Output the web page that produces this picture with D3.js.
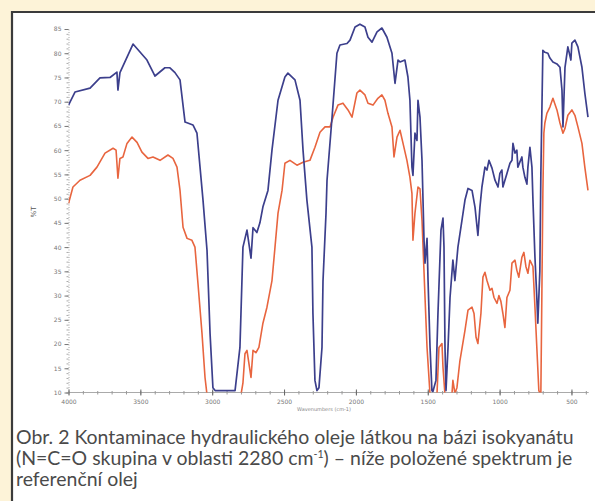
<!DOCTYPE html>
<html>
<head>
    <meta charset="utf-8">
    <script src="https://d3js.org/d3.v7.min.js"></script>
    <style>
        body { margin: 0; background: #fdf3d8; }
        svg { display: block; }
    </style>
</head>
<body>
<script type="text/javascript">
    // spectrum: [wavenumber cm-1, %T]
    const contaminated = [
        [4000,69.3],[3955,72],[3850,72.8],[3781,74.9],[3711,75],[3663,76.1],[3656,72.4],[3642,76],
        [3551,81.9],[3454,78.6],[3398,75.3],[3329,77],[3294,77],[3259,76],[3224,74.5],[3189,65.8],
        [3134,65.2],[3106,63.5],[3064,49.7],[3036,39.3],[3015,22.2],[2995,11],[2980,10.4],[2841,10.4],
        [2807,19.3],[2786,40],[2758,43.5],[2730,37.7],[2716,44],[2689,43],[2668,45],[2647,48.3],
        [2612,51.7],[2584,60],[2542,70.3],[2494,75.1],[2473,75.9],[2424,74.5],[2389,70.3],[2368,60],
        [2341,49.7],[2306,40],[2299,26.3],[2285,12.5],[2271,10.4],[2257,11],[2236,19.3],[2229,33],
        [2208,47],[2201,53.8],[2166,66.8],[2132,80],[2111,81.7],[2062,82],[2041,82.7],[2006,85.4],
        [1972,86],[1937,85.4],[1916,83.3],[1888,82.3],[1853,84.4],[1819,85.2],[1784,83.3],[1749,80],
        [1728,73.8],[1707,78.6],[1693,78.2],[1659,78.6],[1638,75.1],[1624,70.3],[1610,56.5],[1603,54.8],
        [1589,63.5],[1575,62],[1568,70.3],[1554,66.8],[1540,57.9],[1533,49.7],[1526,41.4],[1519,36.7],
        [1505,41.8],[1498,33.1],[1484,19.3],[1471,10.4],[1464,10.2],[1443,12.5],[1429,26.3],[1408,43.5],
        [1394,46],[1387,40],[1380,19.3],[1373,10.4],[1359,19.3],[1345,29.6],[1325,37.3],[1311,33.1],
        [1290,40],[1262,45.5],[1241,49.7],[1220,52.1],[1192,51.7],[1171,48.2],[1151,42.4],[1137,48.2],
        [1123,52.4],[1102,56.5],[1088,55.9],[1074,57.9],[1053,56.3],[1032,53.8],[1011,52.4],[998,55.2],
        [984,55.9],[977,52.4],[949,55.2],[928,57.3],[914,57.9],[907,61.4],[893,59.4],[880,60],
        [873,56.5],[845,58.6],[838,56.5],[824,54.4],[810,53],[803,56.5],[789,60.6],[775,56.5],
        [768,49.7],[754,37.9],[741,29.6],[734,24.3],[720,35],[713,55],[699,80.6],[685,80.2],
        [664,80],[650,79],[629,78.2],[601,77.8],[580,77.1],[566,72.4],[559,64.8],[545,77.1],
        [525,81.3],[504,78.6],[497,82.1],[476,82.7],[455,81.3],[427,77.1],[407,71.8],[385,66.8]
    ];

    const reference = [
        [4000,49],[3969,52.4],[3920,53.8],[3850,54.8],[3802,56.5],[3746,59.4],[3690,60.4],[3669,60],
        [3656,54.2],[3642,58.3],[3621,58.6],[3593,61.4],[3558,62.7],[3523,61.6],[3489,59.6],[3447,58.3],
        [3412,58.6],[3363,57.9],[3308,59],[3273,58.3],[3245,56.5],[3224,51.7],[3203,44.1],[3175,41.8],
        [3141,41.4],[3120,40],[3099,32.5],[3071,22.2],[3050,13.1],[3036,9.5],[2800,9.5],[2786,12],
        [2772,18],[2758,18.7],[2730,13.1],[2716,18.7],[2696,18.2],[2675,19.3],[2647,24.3],[2619,27.6],
        [2584,33.1],[2563,40],[2542,47],[2514,51.7],[2494,57.3],[2459,57.9],[2410,56.9],[2368,57.5],
        [2320,57.9],[2285,60.6],[2250,63.7],[2215,64.8],[2180,64.8],[2159,66.8],[2125,69.3],[2090,69.7],
        [2055,68.3],[2027,66.8],[1993,71.8],[1972,72.4],[1937,71.4],[1916,69.7],[1881,69.3],[1847,70.7],
        [1819,71.4],[1798,70.3],[1777,67.6],[1749,64.8],[1735,58.6],[1714,62.7],[1693,64.1],[1672,61.4],
        [1645,57.9],[1624,54.4],[1610,51.1],[1603,41.4],[1589,47],[1568,52.4],[1554,52],[1540,45.5],
        [1519,29.6],[1505,19.3],[1484,9.5],[1436,9.5],[1422,19.3],[1401,20.1],[1394,15.2],[1380,9.5],
        [1332,9.5],[1325,12.5],[1311,9.8],[1297,11],[1276,16.6],[1241,22.8],[1220,27],[1192,27.6],
        [1178,26.3],[1164,21.4],[1151,20.1],[1130,26.3],[1116,33.8],[1102,34.8],[1088,33.1],[1067,31.1],
        [1053,31.5],[1039,29.6],[1018,28.4],[1005,30],[991,28.8],[977,26.3],[963,23.4],[949,29.6],
        [928,31.1],[914,36.7],[893,37.3],[880,35.2],[866,33.8],[845,37.9],[831,38.9],[817,36],
        [803,34.6],[789,37.3],[768,36],[754,27.6],[741,19.3],[727,10.4],[713,9.5],[706,30],
        [699,51.1],[692,63.5],[685,65.6],[671,67.6],[650,68.9],[629,70.7],[601,68.3],[580,65.6],
        [559,63.5],[545,64.5],[525,67.2],[497,68.3],[476,67.2],[455,64.8],[427,61.4],[407,56.5],
        [385,51.7]
    ];

    const xTicks = [4000, 3500, 3000, 2500, 2000, 1500, 1000, 500];
    const yTicks = [10, 15, 20, 25, 30, 35, 40, 45, 50, 55, 60, 65, 70, 75, 80, 85];
    const captionLines = [
        "Obr. 2 Kontaminace hydraulického oleje látkou na bázi isokyanátu",
        "(N=C=O skupina v oblasti 2280 cm",
        "referenční olej"
    ];

    let width = 595, height = 501;

    let svg = d3.select("body")
        .append("svg")
        .attr("width", width)
        .attr("height", height);

    // frame
    svg.append("rect")
        .attr("x", 0).attr("y", 0)
        .attr("width", width).attr("height", height)
        .attr("fill", "#fdf3d8");
    svg.append("rect")
        .attr("x", 12).attr("y", 12)
        .attr("width", width - 12).attr("height", height - 12)
        .attr("fill", "#ffffff");
    svg.append("path")
        .attr("d", `M12,${height} V12 H${width}`)
        .attr("fill", "none")
        .attr("stroke", "#3b3b3b")
        .attr("stroke-width", 2.2);

    let x = d3.scaleLinear().domain([4000, 380]).range([68.5, 588.7]);
    let y = d3.scaleLinear().domain([10, 85]).range([392.5, 29]);

    // axes
    let yAxis = svg.append("g")
        .attr("transform", "translate(68.5,0)");
    yAxis.call(d3.axisLeft(y).tickValues(d3.range(10, 86, 1)).tickSize(2).tickFormat(""))
        .call(g => g.select(".domain").attr("stroke", "#aaa").attr("stroke-dasharray", "1,1.5"))
        .call(g => g.selectAll(".tick line").attr("stroke", "#aaa"));
    yAxis.append("g")
        .call(d3.axisLeft(y).tickValues(yTicks).tickSize(4).tickPadding(3).tickFormat(d3.format("d")))
        .call(g => g.select(".domain").remove())
        .call(g => g.selectAll(".tick line").attr("stroke", "#777"))
        .call(g => g.selectAll("text").attr("fill", "#777").attr("font-size", 6)
            .attr("font-family", "DejaVu Sans"));

    let xAxis = svg.append("g")
        .attr("transform", "translate(0,392.5)");
    xAxis.call(d3.axisBottom(x).tickValues(d3.range(4000, 379, -100)).tickSize(2).tickFormat(""))
        .call(g => g.select(".domain").attr("stroke", "#aaa").attr("d", `M68.5,0H588.7`))
        .call(g => g.selectAll(".tick line").attr("stroke", "#999").attr("y1", -1.5));
    xAxis.append("g")
        .call(d3.axisBottom(x).tickValues(xTicks).tickSize(3).tickPadding(4).tickFormat(d3.format("d")))
        .call(g => g.select(".domain").remove())
        .call(g => g.selectAll(".tick line").attr("stroke", "#666").attr("y1", -3))
        .call(g => g.selectAll("text").attr("fill", "#777").attr("font-size", 6)
            .attr("font-family", "DejaVu Sans"));

    svg.append("text")
        .attr("transform", "translate(36,212) rotate(-90)")
        .attr("text-anchor", "middle")
        .attr("font-family", "DejaVu Sans")
        .attr("font-size", 7)
        .attr("fill", "#555")
        .text("%T");

    svg.append("text")
        .attr("x", 324).attr("y", 411)
        .attr("text-anchor", "middle")
        .attr("font-family", "DejaVu Sans")
        .attr("font-size", 5)
        .attr("fill", "#888")
        .text("Wavenumbers (cm-1)");

    // spectra
    svg.append("clipPath").attr("id", "plot")
        .append("rect").attr("x", 68.5).attr("y", 20).attr("width", 522).attr("height", 372.5);

    let line = d3.line()
        .x(d => x(d[0]))
        .y(d => y(d[1]));

    svg.append("path")
        .attr("d", line(reference))
        .attr("clip-path", "url(#plot)")
        .attr("fill", "none")
        .attr("stroke", "#e8653f")
        .attr("stroke-width", 1.6)
        .attr("stroke-linejoin", "round");

    svg.append("path")
        .attr("d", line(contaminated))
        .attr("clip-path", "url(#plot)")
        .attr("fill", "none")
        .attr("stroke", "#3c3f8c")
        .attr("stroke-width", 1.7)
        .attr("stroke-linejoin", "round");

    // caption
    let cap = svg.append("g")
        .attr("font-family", "Lato")
        .attr("fill", "#4a4a4a");
    let first = cap.append("text").attr("x", 16).attr("y", 444)
        .attr("font-size", 18).text(captionLines[0]);
    let fs = 18 * 558 / first.node().getComputedTextLength();
    first.attr("font-size", fs);

    let second = cap.append("text").attr("x", 16).attr("y", 465).attr("font-size", fs);
    second.append("tspan").text(captionLines[1]);
    second.append("tspan").attr("font-size", fs * 0.55).attr("dy", -fs * 0.35).text("-1");
    second.append("tspan").attr("dy", fs * 0.35).text(") – níže položené spektrum je");

    cap.append("text").attr("x", 16).attr("y", 486)
        .attr("font-size", fs).text(captionLines[2]);
</script>
</body>
</html>
